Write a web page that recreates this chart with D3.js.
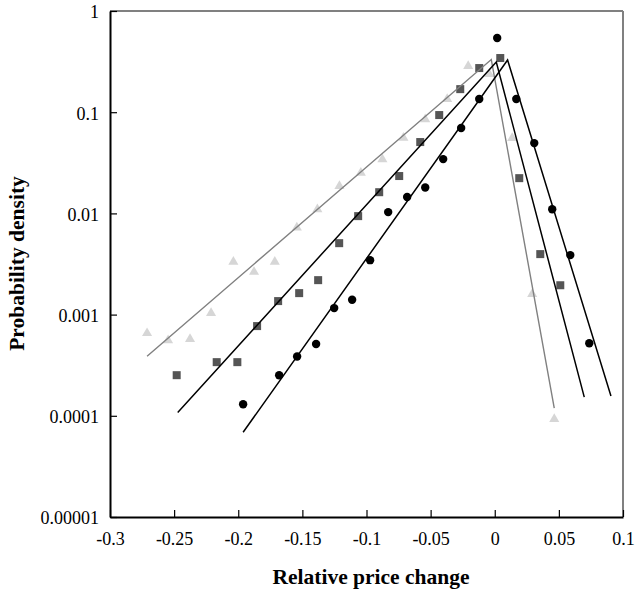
<!DOCTYPE html>
<html>
<head>
<meta charset="utf-8">
<script src="https://cdn.jsdelivr.net/npm/d3@7"></script>
<style>
  html, body { margin: 0; padding: 0; background: #fff; }
  svg { display: block; }
  text { font-family: "Liberation Serif", "Times New Roman", serif; fill: #000; }
</style>
</head>
<body>
<svg id="chart" width="635" height="592"></svg>
<script>
// ---- data ----
const xTicks = [-0.3, -0.25, -0.2, -0.15, -0.1, -0.05, 0, 0.05, 0.1];
const xTickLabels = ["-0.3", "-0.25", "-0.2", "-0.15", "-0.1", "-0.05", "0", "0.05", "0.1"];
const yTicks = [1, 0.1, 0.01, 0.001, 0.0001, 0.00001];
const yTickLabels = ["1", "0.1", "0.01", "0.001", "0.0001", "0.00001"];

// triangles (light grey)
const triX = [-0.2711, -0.2547, -0.2376, -0.2212, -0.2038, -0.1877, -0.1715, -0.1543, -0.1383, -0.1211,
              -0.1044, -0.0876, -0.0712, -0.0542, -0.0371, -0.0207, -0.0043, 0.0136, 0.0292, 0.0464];
const triY = [6.7e-4, 5.7e-4, 5.85e-4, 1.06e-3, 3.4e-3, 2.7e-3, 3.4e-3, 7.4e-3, 0.0112, 0.019,
              0.0258, 0.035, 0.0572, 0.0869, 0.138, 0.292, 0.244, 0.0568, 1.63e-3, 9.5e-5];
// squares (dark grey)
const sqX = [-0.2480, -0.2168, -0.2007, -0.1853, -0.1689, -0.1525, -0.1377, -0.1213, -0.1065, -0.0901,
             -0.0745, -0.0581, -0.0433, -0.0269, -0.0121, 0.0043, 0.0191, 0.0355, 0.0511];
const sqY = [2.52e-4, 3.39e-4, 3.39e-4, 7.7e-4, 1.36e-3, 1.63e-3, 2.19e-3, 5.08e-3, 9.4e-3, 0.0162,
             0.0234, 0.0507, 0.0937, 0.169, 0.273, 0.343, 0.0223, 3.96e-3, 1.95e-3];
// circles (black)
const cirX = [-0.1962, -0.1681, -0.1541, -0.1393, -0.1252, -0.1112, -0.0972, -0.0831, -0.0683, -0.0542,
              -0.0402, -0.0262, -0.0121, 0.0019, 0.0168, 0.0308, 0.0448, 0.0589, 0.0737];
const cirY = [1.30e-4, 2.52e-4, 3.85e-4, 5.13e-4, 1.16e-3, 1.40e-3, 3.45e-3, 0.0103, 0.0145, 0.0180,
              0.0344, 0.0697, 0.135, 0.541, 0.135, 0.0495, 0.0110, 3.87e-3, 5.21e-4];

// fitted exponential lines: left end, apex, right end
const triFitX = [-0.2711, -0.0027, 0.0464];
const triFitY = [3.88e-4, 0.3315, 1.19e-4];
const sqFitX = [-0.2472, 0.0012, 0.0698];
const sqFitY = [1.08e-4, 0.313, 1.53e-4];
const cirFitX = [-0.1962, 0.0100, 0.0906];
const cirFitY = [6.88e-5, 0.328, 1.57e-4];

// ---- layout ----
const svg = d3.select("#chart");
const pL = 110, pR = 623, pT = 11, pB = 517;

const x = d3.scaleLinear().domain([-0.3, 0.1]).range([pL, pR]);
const y = d3.scaleLog().domain([0.00001, 1]).range([pB, pT]);

// frame: top & right grey
svg.append("line").attr("x1", pL).attr("x2", pR).attr("y1", pT).attr("y2", pT)
  .attr("stroke", "#808080").attr("stroke-width", 2);
svg.append("line").attr("x1", pR).attr("x2", pR).attr("y1", pT).attr("y2", pB)
  .attr("stroke", "#808080").attr("stroke-width", 2);

// axes
const xAxis = d3.axisBottom(x).tickValues(xTicks)
  .tickFormat((d, i) => xTickLabels[i]).tickSizeInner(-7).tickSizeOuter(0).tickPadding(15);
const gx = svg.append("g").attr("transform", `translate(0,${pB})`).call(xAxis);
gx.select(".domain").attr("stroke", "#000").attr("stroke-width", 2);
gx.selectAll(".tick line").attr("stroke", "#000").attr("stroke-width", 1.2);
gx.selectAll(".tick text").attr("font-size", 18).attr("font-family", "Liberation Serif");

const yAxis = d3.axisLeft(y).tickValues(yTicks)
  .tickFormat((d, i) => yTickLabels[i]).tickSizeInner(-7).tickSizeOuter(0).tickPadding(11);
const gy = svg.append("g").attr("transform", `translate(${pL},0)`).call(yAxis);
gy.select(".domain").attr("stroke", "#000").attr("stroke-width", 2);
gy.selectAll(".tick line").attr("stroke", "#000").attr("stroke-width", 1.2);
gy.selectAll(".tick text").attr("font-size", 18).attr("font-family", "Liberation Serif").attr("dy", "0.38em");

// axis titles
svg.append("text").attr("x", 371).attr("y", 584)
  .attr("text-anchor", "middle").attr("font-size", 21.5).attr("font-weight", "bold")
  .text("Relative price change");
svg.append("text").attr("transform", `translate(24,263.5) rotate(-90)`)
  .attr("text-anchor", "middle").attr("font-size", 21.5).attr("font-weight", "bold")
  .text("Probability density");

// markers
const tri = triX.map((v, i) => [v, triY[i]]);
const sq = sqX.map((v, i) => [v, sqY[i]]);
const cir = cirX.map((v, i) => [v, cirY[i]]);

svg.append("g").selectAll("path").data(tri).join("path")
  .attr("d", d3.symbol().type(d3.symbolTriangle).size(44))
  .attr("transform", d => `translate(${x(d[0])},${y(d[1]) + 1})`)
  .attr("fill", "#d6d6d6");
svg.append("g").selectAll("rect").data(sq).join("rect")
  .attr("x", d => x(d[0]) - 4).attr("y", d => y(d[1]) - 4)
  .attr("width", 8).attr("height", 8).attr("fill", "#555555");
svg.append("g").selectAll("circle").data(cir).join("circle")
  .attr("cx", d => x(d[0])).attr("cy", d => y(d[1])).attr("r", 4.2)
  .attr("fill", "#000");

// fit lines
const line = d3.line().x(d => x(d[0])).y(d => y(d[1]));
const fits = [
  { pts: triFitX.map((v, i) => [v, triFitY[i]]), color: "#808080", w: 1.4 },
  { pts: sqFitX.map((v, i) => [v, sqFitY[i]]), color: "#000", w: 1.5 },
  { pts: cirFitX.map((v, i) => [v, cirFitY[i]]), color: "#000", w: 1.5 }
];
svg.append("g").selectAll("path").data(fits).join("path")
  .attr("d", d => line(d.pts)).attr("fill", "none")
  .attr("stroke", d => d.color).attr("stroke-width", d => d.w);
</script>
</body>
</html>
